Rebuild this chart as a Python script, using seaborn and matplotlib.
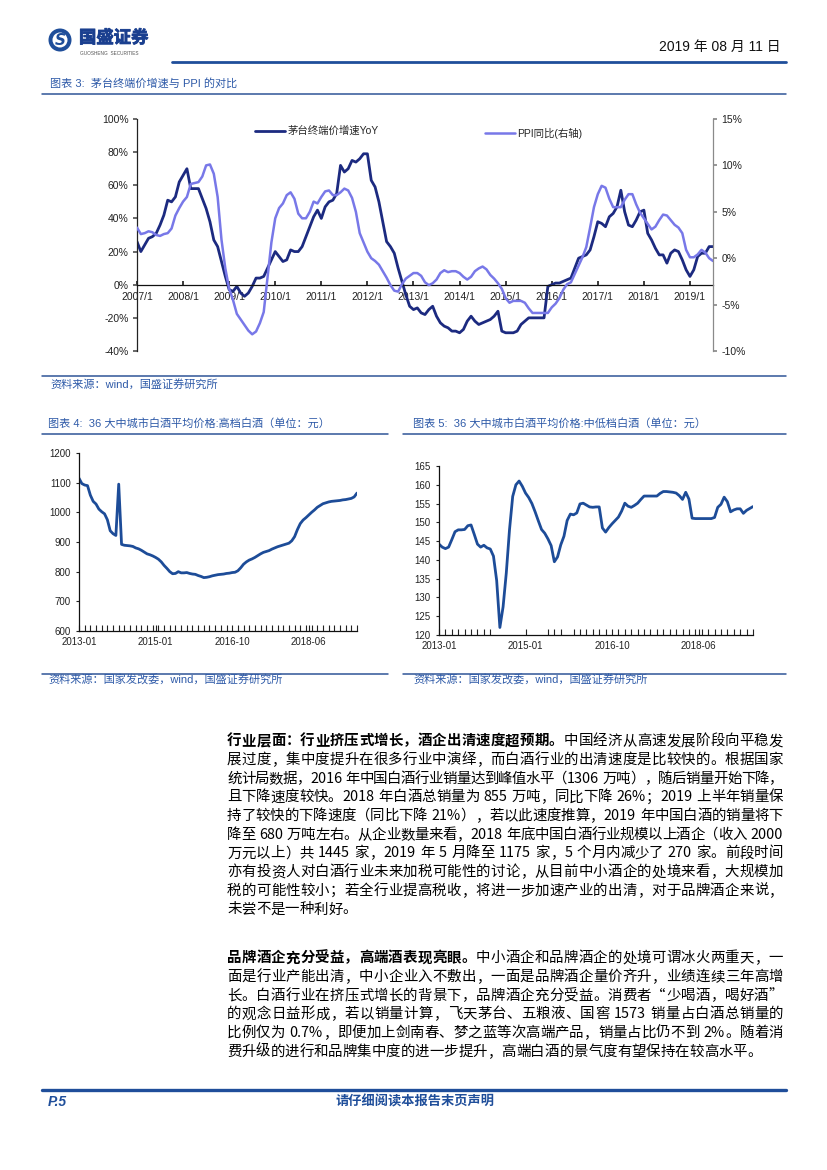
import re
import numpy as np
import pandas as pd
import seaborn as sns
import matplotlib.pyplot as plt
from matplotlib.lines import Line2D
from matplotlib.patches import Circle
import matplotlib.patheffects as pe

# ===== 数据 =====
# 图表3: 茅台终端价增速 (左轴, %), 月度 2007/1 - 2019/7
moutai_yoy = [26, 20, 24, 28, 29, 31, 36, 42, 51, 50, 53, 62, 66,
              70, 58, 58, 58, 52, 46, 38, 27, 23, 14, 5, -3,
              -4, -1, -5, -7, -5, -1, 4, 4, 5, 10, 15, 20,
              17, 14, 15, 21, 20, 20, 23, 29, 35, 41, 45, 40,
              47, 50, 51, 55, 72, 68, 70, 75, 74, 76, 79, 79,
              63, 59, 50, 38, 26, 23, 19, 10, 2, -6, -13, -15,
              -14, -17, -18, -15,
              -13, -19, -23, -25, -26, -28, -28, -29, -27, -22, -19, -22,
              -24, -23, -22, -21, -19, -16, -28, -29, -29, -29, -28, -24,
              -22, -20, -20, -20, -20, -20, -1, 0, 1, 1, 2, 3,
              4, 10, 16, 17, 18, 21, 29, 38, 37, 35, 41, 43,
              47, 57, 44, 36, 35, 39, 44, 45, 31, 27, 22, 18,
              18, 13, 19, 21, 20, 15, 9, 5, 9, 17, 19, 19,
              23, 23]
# PPI同比 (右轴, %)
ppi_yoy = [3.3, 2.6, 2.7, 2.9, 2.8, 2.5, 2.4, 2.6, 2.7, 3.2, 4.6, 5.4,
           6.1, 6.6, 8.0, 8.1, 8.2, 8.8, 10.0, 10.1, 9.1, 6.6, 2.0, -1.1,
           -3.3, -4.5, -6.0, -6.6, -7.2, -7.8, -8.2, -7.9, -7.0, -5.8, -2.1, 1.7,
           4.3, 5.4, 5.9, 6.8, 7.1, 6.4, 4.8, 4.3, 4.3, 5.0, 6.1, 5.9,
           6.6, 7.2, 7.3, 6.8, 6.8, 7.1, 7.5, 7.3, 6.5, 5.0, 2.7, 1.7,
           0.7, 0.0, -0.3, -0.7, -1.4, -2.1, -2.9, -3.5, -3.6, -2.8, -2.2, -1.9,
           -1.6, -1.6, -1.9, -2.6, -2.9, -2.7, -2.3, -1.6, -1.3, -1.5, -1.4, -1.4,
           -1.6, -2.0, -2.3, -2.0, -1.4, -1.1, -0.9, -1.2, -1.8, -2.2, -2.7, -3.3,
           -4.3, -4.8, -4.6, -4.6, -4.6, -4.8, -5.4, -5.9, -5.9, -5.9, -5.9, -5.9,
           -5.3, -4.9, -4.3, -3.4, -2.8, -2.6, -1.7, -0.8, 0.1, 1.2, 3.3, 5.5,
           6.9, 7.8, 7.6, 6.4, 5.5, 5.5, 5.5, 6.3, 6.9, 6.9, 5.8, 4.9,
           4.3, 3.7, 3.1, 3.4, 4.1, 4.7, 4.6, 4.1, 3.6, 3.3, 2.7, 0.9,
           0.1, 0.1, 0.4, 0.9, 0.6, 0.0, -0.3]
year_labels = [f"{y}/1" for y in range(2007, 2020)]

# 图表4: 高档白酒平均价格 (元)
gaodang_price = [1115, 1097, 1092, 1090, 1058, 1037, 1028, 1011, 1002, 995,
                 975, 938, 928, 922, 1095, 892, 889, 888, 887, 885,
                 880, 877, 872, 866, 860, 857, 853, 848, 842, 833,
                 821, 811, 800, 793, 794, 800, 796, 796, 797, 794,
                 792, 791, 787, 784, 780, 781, 783, 786, 788, 790,
                 791, 792, 794, 795, 797, 798, 803, 813, 825, 833,
                 839, 843, 848, 854, 860, 865, 868, 871, 876, 880,
                 884, 887, 890, 893, 896, 904, 918, 942, 962, 974,
                 982, 991, 1000, 1008, 1017, 1023, 1029, 1032, 1035, 1037,
                 1038, 1039, 1040, 1042, 1043, 1045, 1047, 1052, 1065]
# 图表5: 中低档白酒平均价格 (元)
zhongdi_price = [144.2, 143.4, 143.0, 143.4, 145.4, 147.5, 148.0, 148.0, 148.1, 149.1,
                 149.3, 146.8, 144.2, 143.4, 143.9, 143.2, 142.9, 141.0, 134.5, 122.0,
                 127.5, 136.5, 148.0, 156.9, 160.0, 161.0, 159.6, 157.8, 156.6, 155.0,
                 152.8, 150.4, 148.1, 147.1, 145.6, 143.8, 139.5, 140.8, 144.0, 146.3,
                 150.5, 152.2, 152.0, 152.5, 154.9, 155.1, 154.6, 154.1, 154.0, 154.1,
                 154.1, 148.5, 147.4, 148.6, 149.6, 150.5, 151.4, 153.0, 155.1, 154.3,
                 154.0, 154.5, 155.1, 156.1, 157.0, 157.0, 157.0, 157.0, 157.0, 157.7,
                 158.2, 158.2, 158.1, 158.0, 157.8, 157.1, 156.1, 158.0, 156.2, 151.1,
                 151.0, 151.0, 151.0, 151.0, 151.0, 151.0, 151.3, 154.0, 154.8, 156.7,
                 155.5, 152.8, 153.3, 153.6, 153.6, 152.4, 153.2, 153.7, 154.2]
price_labels = ["2013-01", "2015-01", "2016-10", "2018-06"]
price_label_pos = [0, 27, 54, 81]

# ===== 正文 =====
para1 = [
    [("行业层面：行业挤压式增长，酒企出清速度超预期。", True), ("中国经济从高速发展阶段向平稳发", False)],
    [("展过度，集中度提升在很多行业中演绎，而白酒行业的出清速度是比较快的。根据国家", False)],
    [("统计局数据，2016 年中国白酒行业销量达到峰值水平（1306 万吨），随后销量开始下降，", False)],
    [("且下降速度较快。2018 年白酒总销量为 855 万吨，同比下降 26%；2019 上半年销量保", False)],
    [("持了较快的下降速度（同比下降 21%），若以此速度推算，2019 年中国白酒的销量将下", False)],
    [("降至 680 万吨左右。从企业数量来看，2018 年底中国白酒行业规模以上酒企（收入 2000", False)],
    [("万元以上）共 1445 家，2019 年 5 月降至 1175 家，5 个月内减少了 270 家。前段时间", False)],
    [("亦有投资人对白酒行业未来加税可能性的讨论，从目前中小酒企的处境来看，大规模加", False)],
    [("税的可能性较小；若全行业提高税收，将进一步加速产业的出清，对于品牌酒企来说，", False)],
    [("未尝不是一种利好。", False)],
]
para2 = [
    [("品牌酒企充分受益，高端酒表现亮眼。", True), ("中小酒企和品牌酒企的处境可谓冰火两重天，一", False)],
    [("面是行业产能出清，中小企业入不敷出，一面是品牌酒企量价齐升，业绩连续三年高增", False)],
    [("长。白酒行业在挤压式增长的背景下，品牌酒企充分受益。消费者“少喝酒，喝好酒”", False)],
    [("的观念日益形成，若以销量计算，飞天茅台、五粮液、国窖 1573 销量占白酒总销量的", False)],
    [("比例仅为 0.7%，即便加上剑南春、梦之蓝等次高端产品，销量占比仍不到 2%。随着消", False)],
    [("费升级的进行和品牌集中度的进一步提升，高端白酒的景气度有望保持在较高水平。", False)],
]

# ===== 样式 =====
sns.set_theme(style="white")
plt.rcParams["font.family"] = ["Liberation Sans", "Noto Sans CJK SC"]
plt.rcParams["axes.unicode_minus"] = False

W, H, DPI = 827, 1170, 100
DARK = "#1c2a80"
LIGHT = "#7878e8"
MID = "#1d4c98"
RULE = "#2f5597"
HEAD = "#1f4e9a"
CAP = "#2e5aa8"
BODY = "Noto Sans CJK SC"
CJK = ["Liberation Sans", "Noto Sans CJK SC"]


def fx(x):
    return x / W


def fy(y):
    return 1 - y / H


def box(l, t, r, b):
    return [fx(l), fy(b), (r - l) / W, (b - t) / H]


fig = plt.figure(figsize=(W / DPI, H / DPI), dpi=DPI)
renderer = fig.canvas.get_renderer()


def rule(x0, x1, y, lw=1.1, color=RULE):
    fig.add_artist(Line2D([fx(x0), fx(x1)], [fy(y), fy(y)], transform=fig.transFigure,
                          color=color, lw=lw))


def caption(x, y, s, size=8):
    fig.text(fx(x), fy(y), s, fontsize=size, color=CAP, family=CJK, va="center", ha="left")


# ---- 页眉 ----
logo = fig.add_axes(box(40, 22, 175, 60))
logo.set_xlim(40, 175)
logo.set_ylim(60, 22)
logo.set_aspect("equal")
logo.axis("off")
logo.add_patch(Circle((60, 40), 11.5, fc=HEAD, ec="none"))
logo.add_patch(Circle((60, 40), 7.5, fc="white", ec="none"))
logo.text(60, 40.5, "S", fontsize=11, fontweight="bold", color=HEAD, ha="center", va="center",
          family="DejaVu Sans", style="italic")
logo.text(79, 38, "国盛证券", fontsize=12.5, fontweight="bold", color="#1a3f8f", ha="left",
          va="center", family=BODY,
          path_effects=[pe.withStroke(linewidth=0.6, foreground="#1a3f8f")])
logo.text(80, 53.5, "GUOSHENG  SECURITIES", fontsize=3.4, color="#555555", ha="left", va="center")

fig.text(fx(781), fy(47), "2019 年 08 月 11 日", fontsize=10, family=CJK, ha="right", va="center",
         color="#111111")
rule(172, 786, 62, lw=2.0, color=HEAD)

# ---- 图表3 ----
caption(50, 83, "图表 3:  茅台终端价增速与 PPI 的对比")
rule(42, 786, 94)

df3 = pd.DataFrame({"m": np.arange(len(moutai_yoy)), "moutai": moutai_yoy, "ppi": ppi_yoy})
ax1 = fig.add_axes(box(137, 119, 713, 351))
sns.lineplot(data=df3, x="m", y="moutai", ax=ax1, color=DARK, lw=2.0)
ax2 = ax1.twinx()
sns.lineplot(data=df3, x="m", y="ppi", ax=ax2, color=LIGHT, lw=1.8)

ax1.set_xlim(0, len(moutai_yoy) - 1)
ax1.set_ylim(-40, 100)
ax2.set_ylim(-10, 15)
ax1.set_yticks(range(-40, 101, 20))
ax1.set_yticklabels([f"{v}%" for v in range(-40, 101, 20)])
ax2.set_yticks(range(-10, 16, 5))
ax2.set_yticklabels([f"{v}%" for v in range(-10, 16, 5)])
ax1.set_xticks(range(0, len(moutai_yoy), 12))
ax1.set_xticklabels(year_labels)
for a in (ax1, ax2):
    a.set_xlabel("")
    a.set_ylabel("")
ax1.spines["bottom"].set_position(("data", 0))
ax1.spines["top"].set_visible(False)
ax1.spines["right"].set_visible(False)
ax1.spines["left"].set_color("#222222")
ax1.spines["bottom"].set_color("#111111")
for s in ("top", "left", "bottom"):
    ax2.spines[s].set_visible(False)
ax2.spines["right"].set_color("#8a8a8a")
for sp in list(ax1.spines.values()) + list(ax2.spines.values()):
    sp.set_linewidth(0.9)
ax1.tick_params(axis="x", direction="in", length=3, pad=5, labelsize=7.5, colors="#222222",
                bottom=True)
ax1.tick_params(axis="y", direction="out", length=3, pad=3, labelsize=7.5, colors="#222222",
                left=True)
ax2.tick_params(axis="y", direction="out", length=3, pad=3, labelsize=7.5, colors="#222222",
                right=True)
ax1.tick_params(axis="y", color="#555555")
ax2.tick_params(axis="y", color="#8a8a8a")

leg_kw = dict(loc="center left", bbox_transform=fig.transFigure, frameon=False, fontsize=7.5,
              handlelength=2.9, handletextpad=0.2, borderpad=0, borderaxespad=0)
ax1.legend([Line2D([], [], color=DARK, lw=2.0)], ["茅台终端价增速YoY"],
           bbox_to_anchor=(fx(255), fy(131)), **leg_kw)
ax2.legend([Line2D([], [], color=LIGHT, lw=1.8)], ["PPI同比(右轴)"],
           bbox_to_anchor=(fx(485), fy(133)), **leg_kw)

rule(42, 786, 376)
caption(50, 384, "资料来源：wind，国盛证券研究所")

# ---- 图表4 / 图表5 ----
caption(48, 423, "图表 4:  36 大中城市白酒平均价格:高档白酒（单位：元）")
caption(413, 423, "图表 5:  36 大中城市白酒平均价格:中低档白酒（单位：元）")
rule(42, 388, 434)
rule(403, 786, 434)


def price_chart(rect, values, ylo, yhi, step, skip_ticks=()):
    ax = fig.add_axes(rect)
    idx = np.arange(len(values))
    sns.lineplot(x=idx, y=values, ax=ax, color=MID, lw=2.0)
    ax.set_xlim(0, len(values) - 1)
    ax.set_ylim(ylo, yhi)
    ax.set_yticks(np.arange(ylo, yhi + 1, step))
    ax.set_xticks(price_label_pos)
    ax.set_xticklabels(price_labels)
    ax.set_xticks([i for i in range(0, len(values), 2) if i not in skip_ticks], minor=True)
    ax.set_xlabel("")
    ax.set_ylabel("")
    for s in ("top", "right"):
        ax.spines[s].set_visible(False)
    for s in ("left", "bottom"):
        ax.spines[s].set_color("#111111")
        ax.spines[s].set_linewidth(0.9)
    ax.tick_params(axis="x", which="both", direction="in", length=4, width=0.8, pad=4,
                   labelsize=7, colors="#222222", bottom=True)
    ax.tick_params(axis="y", direction="out", length=2, width=0.8, pad=4, labelsize=7,
                   colors="#222222", left=True)
    return ax


price_chart(box(79, 453, 357, 631), gaodang_price, 600, 1200, 100)
price_chart(box(439, 466, 753, 635), zhongdi_price, 120, 165, 5,
            skip_ticks=set(range(18, 33, 2)) | {40})

rule(42, 388, 674)
rule(403, 786, 674)
caption(48, 680, "资料来源：国家发改委，wind，国盛证券研究所")
caption(413, 680, "资料来源：国家发改委，wind，国盛证券研究所")

# ---- 正文 (两端对齐) ----
FS = 10.4
EM = FS * DPI / 72
ASCII = re.compile(r"[A-Za-z0-9.%]+")


def tok_width(tok, bold):
    if tok == " ":
        return 0.3 * EM
    if ASCII.fullmatch(tok):
        t = fig.text(0, 0, tok, fontsize=FS, family=BODY)
        w = t.get_window_extent(renderer).width
        t.remove()
        return w
    return EM


def draw_line(segs, y, justify=True, x0=227, x1=783):
    toks = []
    for s, bold in segs:
        toks += [(t, bold) for t in re.findall(r"[A-Za-z0-9.%]+| |.", s)]
    ws = [tok_width(t, b) for t, b in toks]
    gap = ((x1 - x0) - sum(ws)) / (len(toks) - 1) if justify else 0.0
    x = x0
    base = y + 0.36 * EM
    for (tok, bold), w in zip(toks, ws):
        if tok != " ":
            if tok in "（“":
                ha, xp = "right", x + w
            elif tok in "，。；：、）”" or ASCII.fullmatch(tok):
                ha, xp = "left", x
            else:
                ha, xp = "center", x + w / 2
            fig.text(fx(xp), fy(base), tok, fontsize=FS, family=BODY, ha=ha, va="baseline",
                     color="#000000", fontweight="bold" if bold else "normal")
        x += w + gap


LINE_H = 18.7
for k, segs in enumerate(para1):
    draw_line(segs, 740 + k * LINE_H, justify=k < len(para1) - 1)
for k, segs in enumerate(para2):
    draw_line(segs, 957 + k * LINE_H, justify=k < len(para2) - 1)

# ---- 页脚 ----
rule(42, 786, 1090, lw=2.4, color=HEAD)
fig.text(fx(48), fy(1102), "P.5", fontsize=10, fontweight="bold", style="italic", color=HEAD,
         ha="left", va="center")
fig.text(fx(415), fy(1102), "请仔细阅读本报告末页声明", fontsize=9.5, fontweight="bold", color=HEAD,
         family=BODY, ha="center", va="center")

fig.savefig("out.png", dpi=DPI)
